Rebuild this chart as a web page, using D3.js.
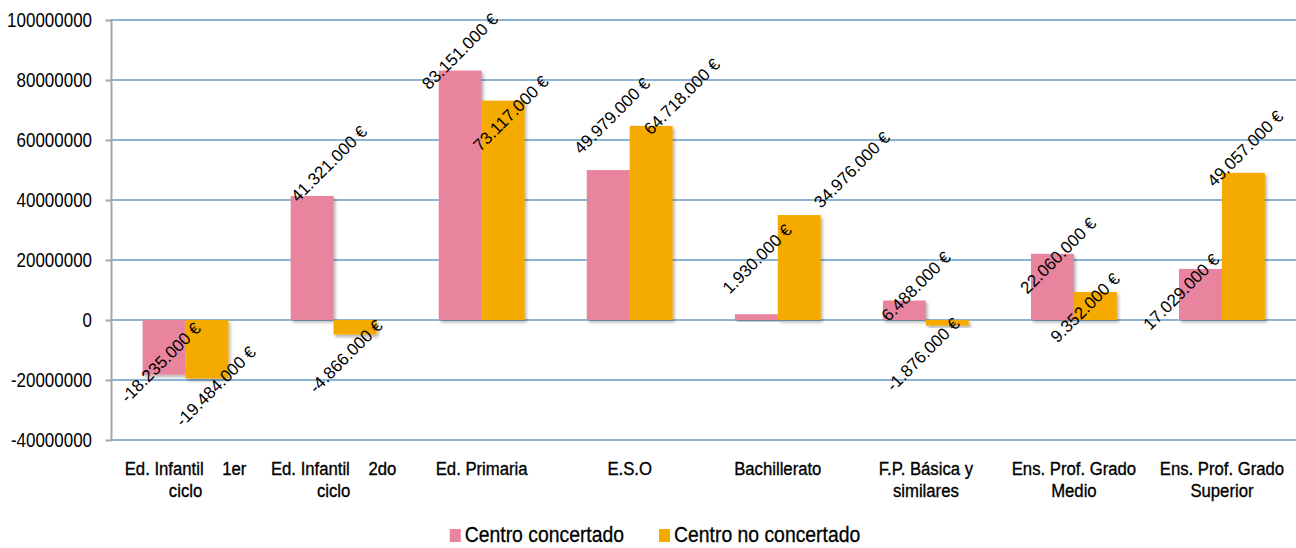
<!DOCTYPE html>
<html><head><meta charset="utf-8">
<script src="https://cdn.jsdelivr.net/npm/d3@7"></script>
<style>
html,body{margin:0;padding:0;background:#fff;}
svg{display:block;}
</style></head><body>
<svg id="chart" width="1296" height="548"></svg>
<script>
// ---- data ----
const categories = [
  "Ed. Infantil    1er\nciclo",
  "Ed. Infantil    2do\nciclo",
  "Ed. Primaria",
  "E.S.O",
  "Bachillerato",
  "F.P. Básica y\nsimilares",
  "Ens. Prof. Grado\nMedio",
  "Ens. Prof. Grado\nSuperior"
];
const seriesNames = ["Centro concertado", "Centro no concertado"];
const concertado   = [-18235000, 41321000, 83151000, 49979000, 1930000, 6488000, 22060000, 17029000];
const noConcertado = [-19484000, -4866000, 73117000, 64718000, 34976000, -1876000, 9352000, 49057000];
const yTicks = [-40000000, -20000000, 0, 20000000, 40000000, 60000000, 80000000, 100000000];

// label nudges (px) relative to bar end, as placed in the reference
const concertadoLabelShift   = [[-3,-12],[17,-32],[0,-19],[4,-54],[1,-55],[12,-14],[6,2],[-19,23]];
const noConcertadoLabelShift = [[9,8],[-9,22],[8,13],[31,-29],[53,-45],[-24,29],[-10,16],[2,-24]];

// ---- layout / style ----
const W = 1296, H = 548;
const colors = ["#E9849E", "#F5AA00"];
const gridColor = "#8CB5D5";
const axisColor = "#A6A6A6";
const baseFont = "'Liberation Sans',Arial,sans-serif";
const narrow = 0.88; // horizontal compression to mimic a condensed face

const svg = d3.select("#chart");

const defs = svg.append("defs");
const f = defs.append("filter").attr("id","shadow").attr("x","-20%").attr("y","-20%").attr("width","150%").attr("height","150%");
f.append("feDropShadow").attr("dx",2).attr("dy",2.5).attr("stdDeviation",1.6)
  .attr("flood-color","#000").attr("flood-opacity",0.28);

const x0 = d3.scaleBand().domain(d3.range(categories.length))
  .range([111.5, 1296]).paddingInner(0.42).paddingOuter(0.21);
const x1 = d3.scaleBand().domain([0,1]).range([0, x0.bandwidth()]);
const y = d3.scaleLinear().domain([-40000000, 100000000]).range([440, 20]);

// gridlines
svg.append("g").selectAll("line").data(yTicks).join("line")
  .attr("x1", 111).attr("x2", W)
  .attr("y1", d => y(d)).attr("y2", d => y(d))
  .attr("stroke", gridColor).attr("stroke-width", 2);

// y axis (ticks from d3 axis, labels compressed)
const yAxis = d3.axisLeft(y).tickValues(yTicks).tickSize(6).tickFormat("");
const ga = svg.append("g").attr("transform", "translate(111.5,0)").call(yAxis);
ga.select(".domain").remove();
ga.selectAll(".tick line").attr("stroke", axisColor).attr("stroke-width", 2);
svg.append("g").selectAll("g").data(yTicks).join("g")
  .attr("transform", d => `translate(92,${y(d)}) scale(0.87,1)`)
  .append("text")
  .attr("text-anchor", "end").attr("dominant-baseline", "central")
  .style("font-family", baseFont).style("font-size", "19.5px").attr("fill", "#000")
  .text(d => String(d));
svg.append("line").attr("x1",111.5).attr("x2",111.5).attr("y1",y(100000000)-1).attr("y2",y(-40000000)+1)
  .attr("stroke", axisColor).attr("stroke-width", 2);

// bars
const series = [concertado, noConcertado];
const shifts = [concertadoLabelShift, noConcertadoLabelShift];
const gb = svg.append("g");
series.forEach((vals, s) => {
  gb.append("g").selectAll("rect").data(vals).join("rect")
    .attr("x", (d,i) => x0(i) + x1(s))
    .attr("width", x1.bandwidth())
    .attr("y", d => y(Math.max(0,d)))
    .attr("height", d => Math.abs(y(d) - y(0)))
    .attr("fill", colors[s])
    .attr("filter", "url(#shadow)");
});

// data labels
const loc = d3.formatLocale({decimal: ",", thousands: ".", grouping: [3], currency: ["", " €"], minus: "-"});
const fmt = loc.format(",");
series.forEach((vals, s) => {
  svg.append("g").selectAll("text").data(vals).join("text")
    .attr("transform", (d,i) => {
      const cx = x0(i) + x1(s) + x1.bandwidth()/2 + shifts[s][i][0];
      const cy = y(d) + shifts[s][i][1];
      return `translate(${cx},${cy}) rotate(-45)`;
    })
    .attr("text-anchor", "middle")
    .attr("dominant-baseline", "central")
    .style("font-family", baseFont).style("font-size", "17px").attr("fill", "#000")
    .text(d => fmt(d) + " €");
});

// category labels
const gc = svg.append("g");
categories.forEach((c, i) => {
  const t = gc.append("g")
    .attr("transform", `translate(${x0(i) + x0.bandwidth()/2},475) scale(${narrow},1)`)
    .append("text")
    .attr("text-anchor", "middle")
    .attr("xml:space", "preserve")
    .style("white-space", "pre")
    .style("font-family", baseFont).style("font-size", "19px")
    .attr("fill", "#000").attr("stroke", "#000").attr("stroke-width", 0.35);
  c.split("\n").forEach((line, k) => {
    t.append("tspan").attr("x", 0).attr("y", k * 22).text(line);
  });
});

// legend
const lg = svg.append("g");
const items = seriesNames.map((n, s) => {
  const g = lg.append("g");
  g.append("rect").attr("width", 11).attr("height", 13).attr("y", -13).attr("fill", colors[s]);
  const t = g.append("g").attr("transform", `translate(15,0) scale(${narrow},1)`).append("text")
    .style("font-family", baseFont).style("font-size", "22px")
    .attr("fill", "#000").attr("stroke", "#000").attr("stroke-width", 0.3).text(n);
  return {g, w: 15 + t.node().getComputedTextLength() * narrow};
});
const gap = 35;
const total = d3.sum(items, d => d.w) + gap * (items.length - 1);
let lx = 655 - total/2;
items.forEach(it => { it.g.attr("transform", `translate(${lx},542)`); lx += it.w + gap; });
</script>
</body></html>
